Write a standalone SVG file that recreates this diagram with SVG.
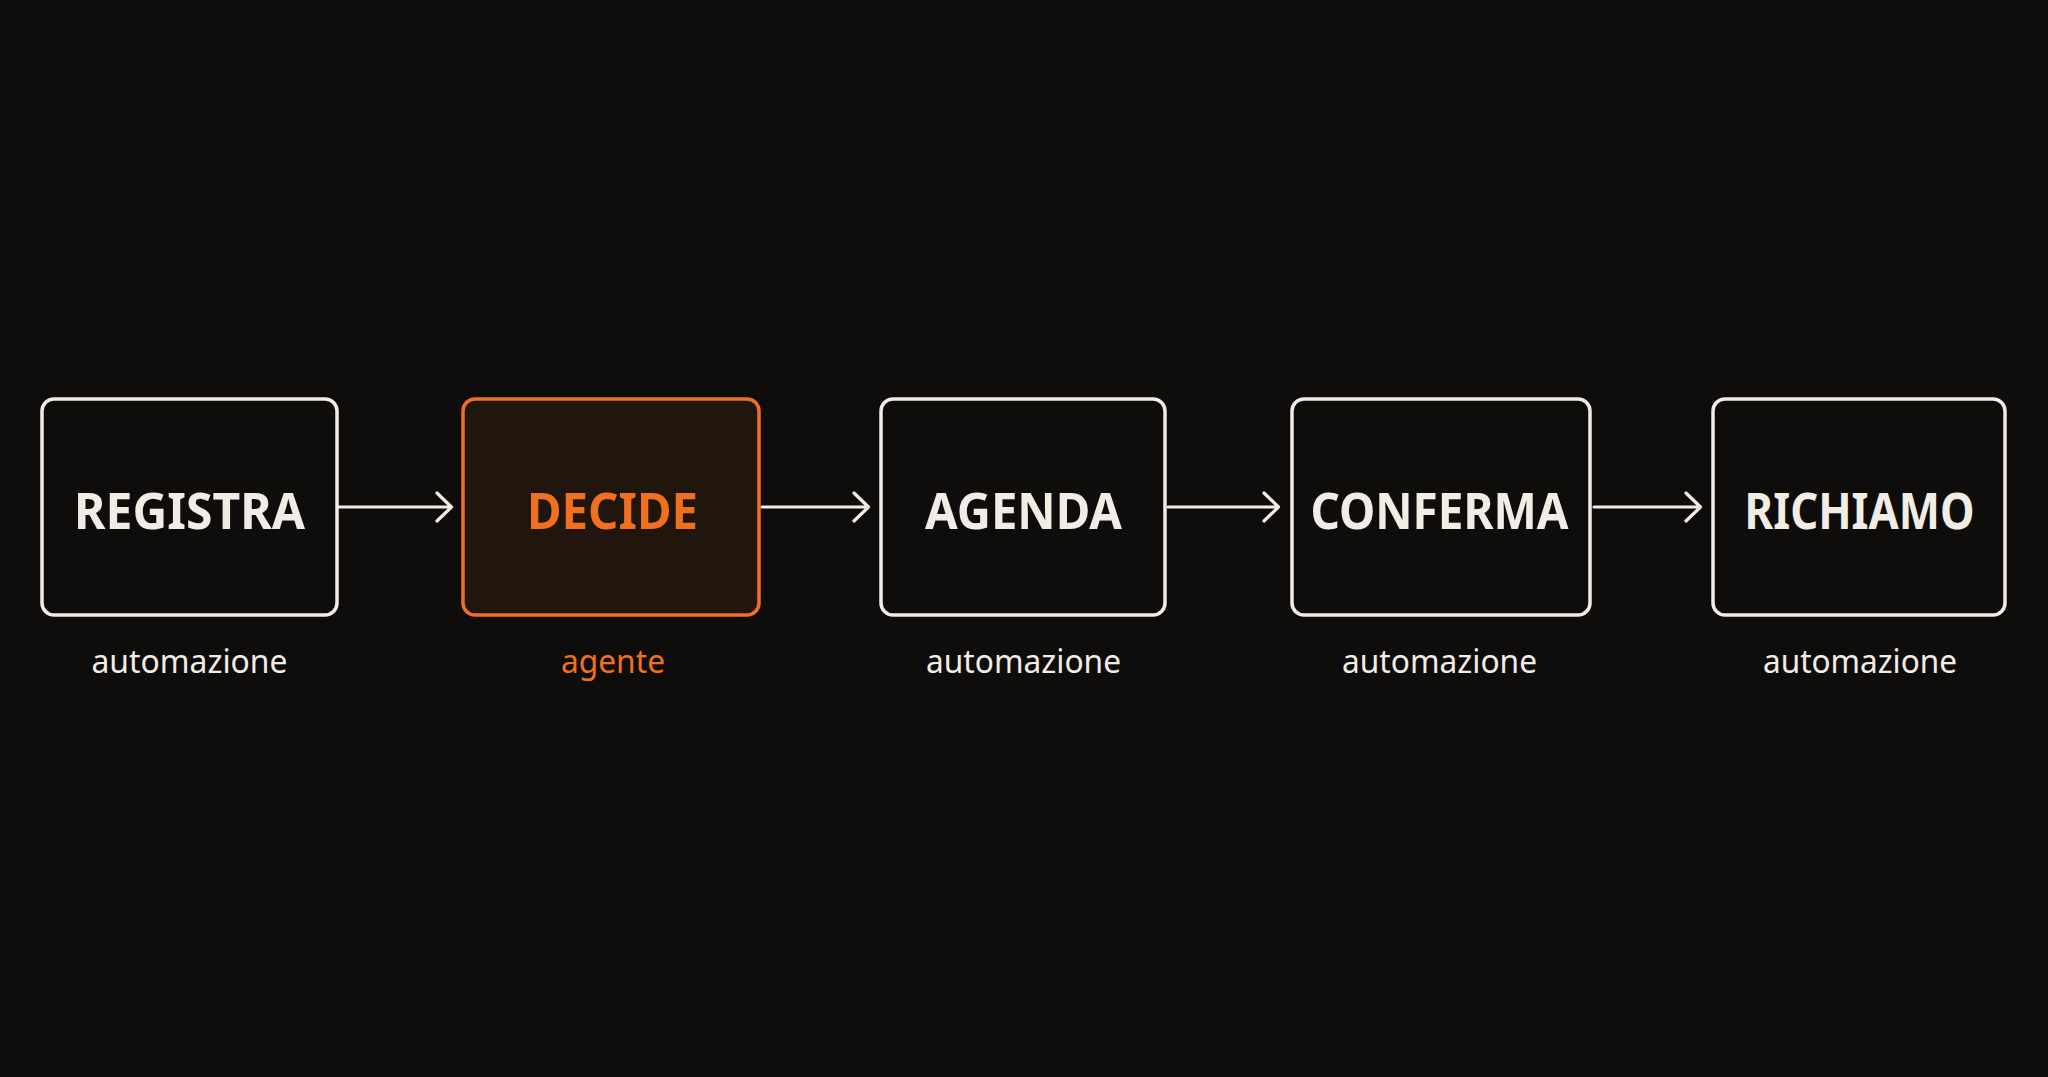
<svg xmlns="http://www.w3.org/2000/svg" width="2048" height="1077" viewBox="0 0 2048 1077">
<defs>
<style>
.box{fill:#0f0d0b;stroke:#f1ede5;stroke-width:3.5}
.boxa{fill:#21160e;stroke:#f0701f;stroke-width:3.5}
.lbl{font-family:"Noto Sans","Liberation Sans",sans-serif;font-weight:700;font-size:51px;fill:#f1ede5;text-anchor:middle}
.lbla{fill:#f0701f}
.sub{font-family:"Noto Sans","Liberation Sans",sans-serif;font-weight:400;font-size:33px;fill:#f1ede5;text-anchor:middle}
.suba{fill:#f0701f}
.conn{fill:none;stroke:#f1ede5;stroke-width:3.2;stroke-linecap:round;stroke-linejoin:round}
</style>
</defs>
<rect x="0" y="0" width="2048" height="1077" fill="#0f0d0b"/>
<g id="connectors">
<path class="conn" d="M339,507 H451 M437,493 L451.5,507 L437,521"/>
<path class="conn" d="M762,507 H868 M854,493 L868.5,507 L854,521"/>
<path class="conn" d="M1168,507 H1278 M1264,493 L1278.5,507 L1264,521"/>
<path class="conn" d="M1594,507 H1700 M1686,493 L1700.5,507 L1686,521"/>
</g>
<g id="registra">
<rect class="box" x="42" y="399" width="295" height="216" rx="12"/>
<text class="lbl" x="189.5" y="529" textLength="231" lengthAdjust="spacingAndGlyphs">REGISTRA</text>
<text class="sub" x="189.5" y="673" textLength="196" lengthAdjust="spacingAndGlyphs">automazione</text>
</g>
<g id="decide">
<rect class="boxa" x="463" y="399" width="296" height="216" rx="12"/>
<text class="lbl lbla" x="612.5" y="529" textLength="171" lengthAdjust="spacingAndGlyphs">DECIDE</text>
<text class="sub suba" x="613" y="673" textLength="104" lengthAdjust="spacingAndGlyphs">agente</text>
</g>
<g id="agenda">
<rect class="box" x="881" y="399" width="284" height="216" rx="12"/>
<text class="lbl" x="1023.5" y="529" textLength="197" lengthAdjust="spacingAndGlyphs">AGENDA</text>
<text class="sub" x="1023.5" y="673" textLength="195" lengthAdjust="spacingAndGlyphs">automazione</text>
</g>
<g id="conferma">
<rect class="box" x="1292" y="399" width="298" height="216" rx="12"/>
<text class="lbl" x="1439.5" y="529" textLength="258" lengthAdjust="spacingAndGlyphs">CONFERMA</text>
<text class="sub" x="1439.5" y="673" textLength="195" lengthAdjust="spacingAndGlyphs">automazione</text>
</g>
<g id="richiamo">
<rect class="box" x="1713" y="399" width="292" height="216" rx="12"/>
<text class="lbl" x="1859.5" y="529" textLength="230" lengthAdjust="spacingAndGlyphs">RICHIAMO</text>
<text class="sub" x="1860" y="673" textLength="194" lengthAdjust="spacingAndGlyphs">automazione</text>
</g>
</svg>
